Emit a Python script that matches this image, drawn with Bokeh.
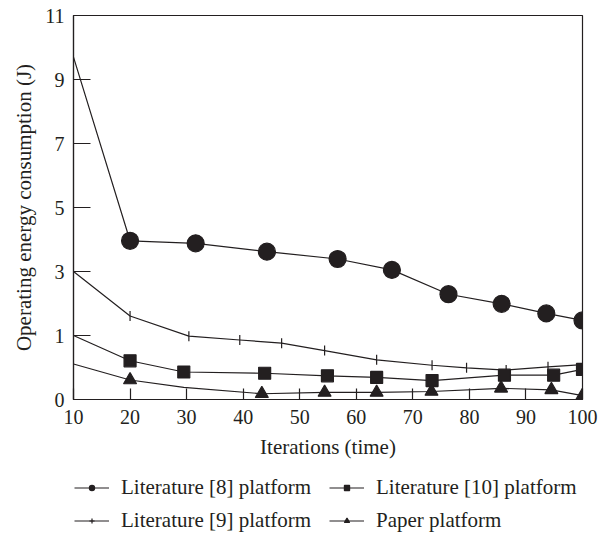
import math
from bokeh.plotting import figure
from bokeh.layouts import column
from bokeh.models import Range1d, FixedTicker, Legend, LegendItem
from bokeh.embed import file_html
from bokeh.resources import INLINE

# ---- data (y values in axis units; axis label "0" sits at the -1 grid line) ----
x_lit8 = [10, 20, 31.6, 44.2, 56.7, 66.3, 76.3, 85.7, 93.6, 100]
y_lit8 = [9.7, 3.96, 3.88, 3.62, 3.39, 3.05, 2.29, 1.99, 1.69, 1.47]
m_lit8 = [0, 1, 1, 1, 1, 1, 1, 1, 1, 1]

x_lit9 = [10, 20, 30.4, 39.4, 46.8, 54.4, 63.6, 73.4, 79.5, 86.5, 93.9, 100]
y_lit9 = [3.0, 1.61, 0.98, 0.86, 0.76, 0.53, 0.24, 0.07, -0.01, -0.08, 0.02, 0.09]
m_lit9 = [0, 1, 1, 1, 1, 1, 1, 1, 1, 1, 1, 0]

x_lit10 = [10, 20, 29.5, 43.8, 54.9, 63.6, 73.4, 86.2, 94.9, 100]
y_lit10 = [1.0, 0.21, -0.14, -0.18, -0.26, -0.31, -0.41, -0.24, -0.24, -0.06]
m_lit10 = [0, 1, 1, 1, 1, 1, 1, 1, 1, 1]

x_paper = [10, 20, 29.5, 43.3, 54.4, 63.6, 73.3, 85.6, 94.5, 100]
y_paper = [0.11, -0.39, -0.62, -0.82, -0.78, -0.78, -0.75, -0.65, -0.70, -0.88]
m_paper = [0, 1, 0, 1, 1, 1, 1, 1, 1, 1]

x_ticks = [10, 20, 30, 40, 50, 60, 70, 80, 90, 100]
y_ticks = [-1, 1, 3, 5, 7, 9, 11]
y_tick_labels = ["0", "1", "3", "5", "7", "9", "11"]

labels = ["Literature [8] platform", "Literature [9] platform",
          "Literature [10] platform", "Paper platform"]

INK = "#231f20"
FONT = "Liberation Serif"

p = figure(width=605, height=464, output_backend="svg", toolbar_location=None,
           x_range=Range1d(10, 100), y_range=Range1d(-1, 11),
           min_border_left=73, min_border_right=23, min_border_top=15, min_border_bottom=65)
p.background_fill_color = "white"
p.border_fill_color = "white"
p.outline_line_color = INK
p.outline_line_width = 1.2
p.xgrid.visible = False
p.ygrid.visible = False

for ax in (p.xaxis[0], p.yaxis[0]):
    ax.axis_line_color = INK
    ax.axis_line_width = 1.2
    ax.major_tick_line_color = INK
    ax.major_tick_line_width = 1.2
    ax.minor_tick_line_color = None
    ax.major_tick_out = 0
    ax.major_label_text_font = FONT
    ax.major_label_text_font_size = "20px"
    ax.major_label_text_color = INK
    ax.axis_label_text_font = FONT
    ax.axis_label_text_font_size = "21px"
    ax.axis_label_text_font_style = "normal"
    ax.axis_label_text_color = INK

p.xaxis[0].ticker = FixedTicker(ticks=x_ticks)
p.xaxis[0].major_tick_in = 11
p.xaxis[0].major_label_standoff = 10
p.xaxis[0].axis_label = "Iterations (time)"
p.xaxis[0].axis_label_standoff = 8

p.yaxis[0].ticker = FixedTicker(ticks=y_ticks)
p.yaxis[0].major_label_overrides = {t: l for t, l in zip(y_ticks, y_tick_labels)}
p.yaxis[0].major_tick_in = 17
p.yaxis[0].major_label_standoff = 9
p.yaxis[0].axis_label = "Operating energy consumption (J)"
p.yaxis[0].axis_label_standoff = 6

MARKERS = [("circle", 17, 0.0), ("dash", 10, math.pi / 2), ("square", 12, 0.0), ("triangle", 13, 0.0)]
LEGEND_MARKERS = [("circle", 8), ("cross", 9), ("square", 7), ("triangle", 8)]


def series(fig, xs, ys, ms, marker, size, angle=0.0):
    line_r = fig.line(xs, ys, line_color=INK, line_width=1.2)
    mx = [x for x, m in zip(xs, ms) if m]
    my = [y for y, m in zip(ys, ms) if m]
    sc_r = fig.scatter(mx, my, marker=marker, size=size, angle=angle,
                       fill_color=INK, line_color=INK, line_width=1.2)
    return line_r, sc_r


series(p, x_lit8, y_lit8, m_lit8, *MARKERS[0])
series(p, x_lit9, y_lit9, m_lit9, *MARKERS[1])
series(p, x_lit10, y_lit10, m_lit10, *MARKERS[2])
series(p, x_paper, y_paper, m_paper, *MARKERS[3])

# ---- legend strip below the chart (legend-only proxies, nothing drawn) ----
lf = figure(width=605, height=69, output_backend="svg", toolbar_location=None,
            x_range=Range1d(0, 1), y_range=Range1d(0, 1),
            min_border_left=0, min_border_right=0, min_border_top=0, min_border_bottom=0)
lf.axis.visible = False
lf.grid.visible = False
lf.outline_line_color = None
lf.background_fill_color = "white"
lf.border_fill_color = "white"

nan = float("nan")
proxies = []
for lm, ls in LEGEND_MARKERS:
    proxies.append(series(lf, [nan], [nan], [1], lm, ls, 0.0))

legend = Legend(items=[
    LegendItem(label=labels[0], renderers=list(proxies[0])),
    LegendItem(label=labels[1], renderers=list(proxies[1])),
    LegendItem(label=labels[2], renderers=list(proxies[2])),
    LegendItem(label=labels[3], renderers=list(proxies[3])),
], ncols=2, location=(1, 0))
legend.label_text_font = FONT
legend.label_text_font_size = "21px"
legend.label_text_color = INK
legend.glyph_width = 35
legend.glyph_height = 13
legend.label_standoff = 12
legend.label_width = 200
legend.spacing = 8
legend.padding = 0
legend.margin = 0
legend.border_line_color = None
legend.background_fill_alpha = 0
lf.add_layout(legend, "center")

layout = column(p, lf, spacing=0)
open("out.html", "w").write(file_html(layout, INLINE))
